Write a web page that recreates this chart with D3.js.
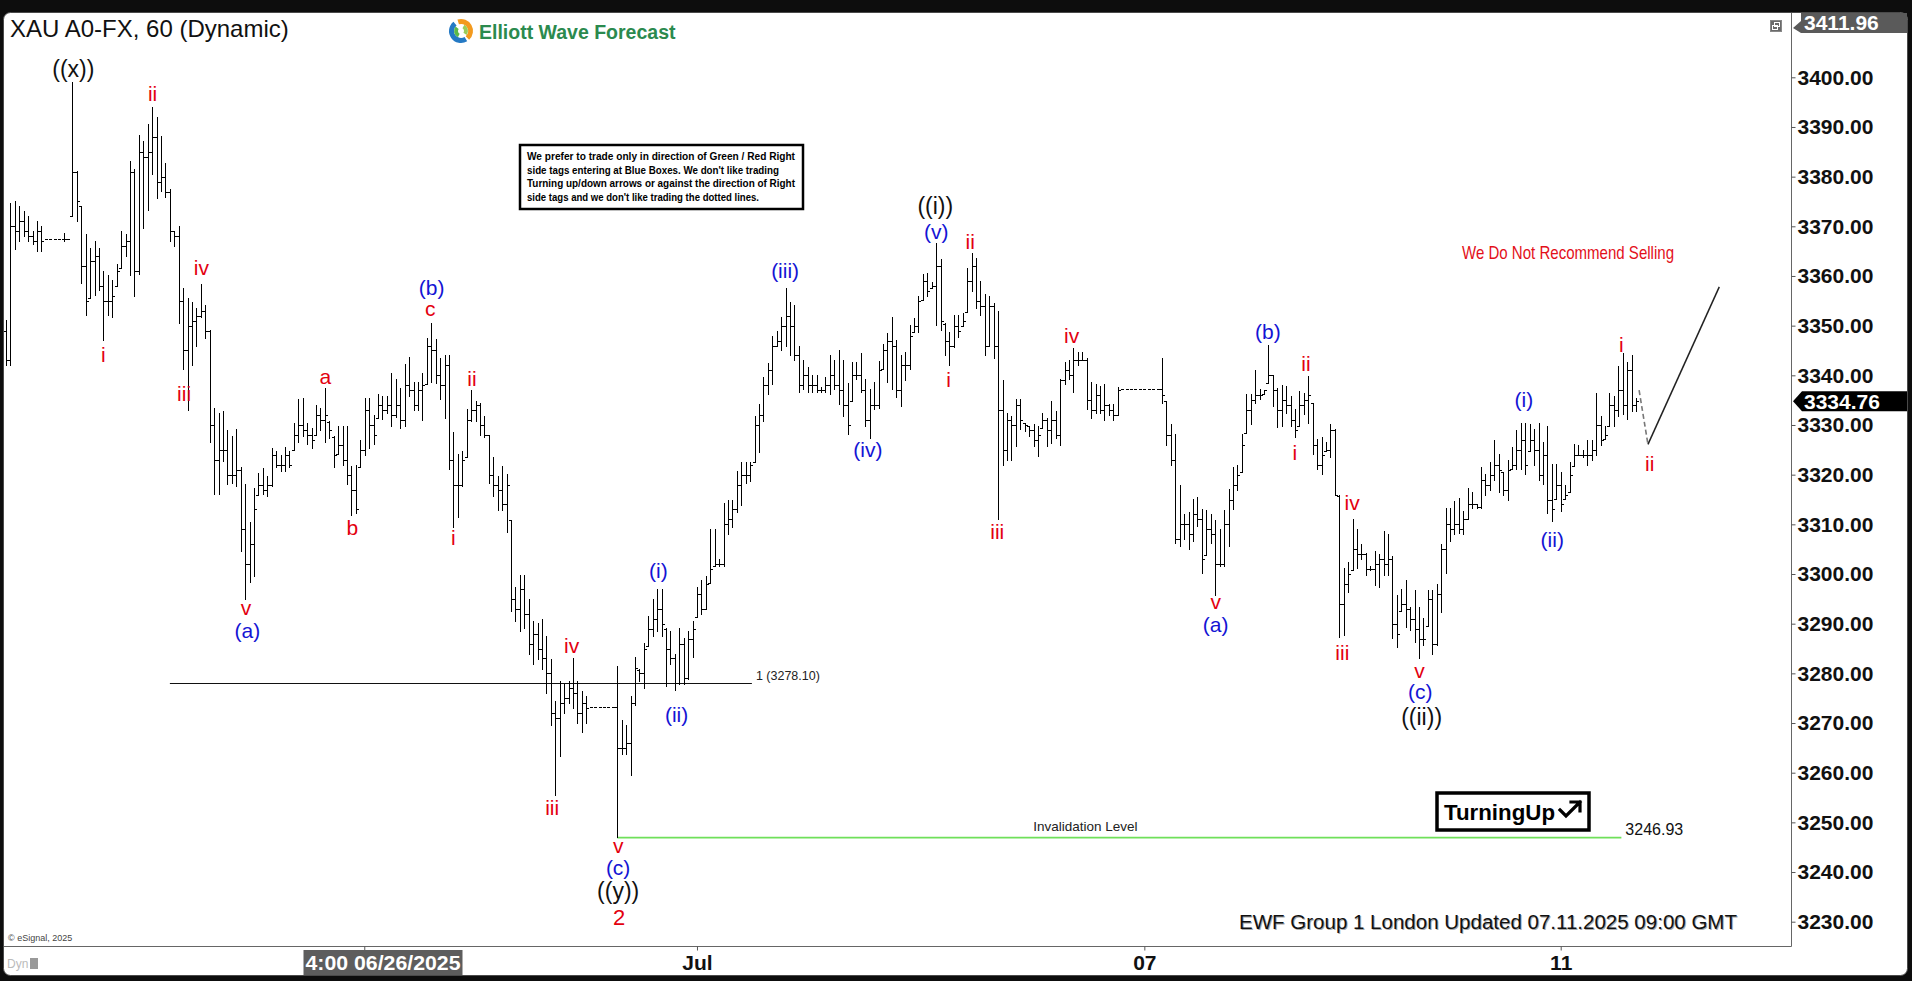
<!DOCTYPE html>
<html><head><meta charset="utf-8">
<script src="https://cdn.jsdelivr.net/npm/d3@7"></script>
<style>
html,body{margin:0;padding:0;background:#0d0d0d;overflow:hidden}
svg{display:block}
text{font-family:"Liberation Sans",Arial,sans-serif}
</style></head><body>
<svg id="c" width="1912" height="981"></svg>
<script>
// ---- hourly OHLC bars (XAU A0-FX, 60) ----
const highs=[
3351,3374.5,3375,3374,3373,3372,3369,3371,3370,3367.5,
3367.5,3367.5,3367.5,3368.5,3367.5,3399,3381,3374,3368.4,3365.5,
3367,3365.5,3361,3360,3359,3362.4,3369,3368.4,3383,3381.4,
3388.3,3387,3390.4,3394,3392,3388,3382.7,3377.5,3369,3370,
3357.4,3355.5,3354.7,3353.5,3358.2,3354,3349,3333.4,3332.3,3332.7,
3328.8,3327.6,3329,3321.5,3318,3310.3,3317.3,3320.3,3321.3,3319.6,
3325.3,3324.6,3323.8,3325.5,3324.6,3330.4,3335.2,3335.4,3330.4,3329.2,
3333.9,3333.4,3337.3,3330.7,3327.6,3329.6,3329.6,3329.6,3321.6,3321.8,
3326.8,3335.4,3335.4,3331.9,3336.2,3335.8,3335.8,3340.4,3339.2,3337.3,
3342.2,3343.5,3338.5,3338.5,3340.4,3347.5,
3350.5,3347.3,3343.4,3343.9,
3343.9,3328.5,3324,3324.7,3333.2,3337,3334.7,3334.4,3331.7,3327.9,
3323.5,3319.6,3321.7,3320.1,3310.8,3297.2,3299.7,3299.7,3294.8,3290.5,
3290,3290.9,3287.5,3282.7,3274.4,3278.3,3277.8,3278.3,3283,3278.3,
3276.4,3275.4,3273.2,3273.2,3273.2,3273.2,3273.2,3273.2,3281.3,3270.5,
3269.6,3275.4,3283.2,3280.7,3286.1,3291.4,3294.8,3296.8,3296.8,3289,
3288.5,3283.7,3289,3287,3288.5,3290.5,3297.3,3298.7,3299.4,3308.9,
3308.9,3303,3314.2,3314.7,3314.7,3320.6,3322.5,3322.5,3322.5,3331.7,
3334.2,3339.5,3342.4,3347.8,3348.8,3351.7,3357.5,3354.6,3354.1,3345.8,
3342.9,3341.5,3340,3340,3337.6,3339.6,3343.9,3342.9,3344.9,3342.9,
3338.3,3342.6,3342.6,3344.3,3339.2,3337.2,3338.5,3342.7,3346.3,3348.4,
3351.7,3347,3343.9,3344.6,3350,3351.4,3355.8,3360.3,3360.6,3358.6,
3366.5,3363.3,3350.4,3348.7,3352.1,3352.1,3352.4,3361.6,3364.5,3363.6,
3358.9,3356.2,3355.8,3354.5,3352.8,3338.9,3332.4,3331.7,3335.1,3335.1,
3330.4,3329.7,3330,3329.7,3332.4,3331.4,3334.8,3332.7,3339.2,3342.6,
3342.9,3345.4,3344.6,3344.6,3343.3,3338.5,3338.2,3337.8,3338.2,3334.1,
3334.1,3337.5,3337.3,3337.3,3337.3,3337.3,3337.3,3337.3,3337.3,3337.3,
3337.3,3343.3,3334.8,3330,3328,3317.8,3312,3312.4,3315.1,3315.5,
3313,3312.7,3312,3310.7,3308.9,3312.7,3317.1,3321.5,3321.9,3328,
3336.2,3336.2,3341,3337.2,3337,3346,3340,3337.4,3338,3337.7,
3335.7,3333.1,3336.7,3336.4,3339.7,3334.4,3327.1,3327.4,3326.4,3330.1,
3329,3315.8,3301.2,3302.3,3310.9,3308.9,3305.9,3304.2,3301.5,3304.5,
3303.9,3308.5,3307.9,3303.6,3295.6,3296.9,3298.6,3293.3,3296.6,3293.3,
3291,3296.6,3296.6,3297.9,3305.9,3313.2,3313.2,3314.5,3315.2,3312.5,
3317.2,3316.5,3314,3321.5,3320.1,3322.5,3326.8,3324.1,3320.5,3322.8,
3325.4,3328.8,3330.4,3330.4,3330.1,3329,3330.4,3326.4,3329.7,3322.1,
3322.1,3320.5,3317.8,3322.5,3326.1,3325.8,3324.8,3326.8,3326.8,3336.4,
3331.7,3329.7,3336.4,3335.7,3341.7,3344.3,3342.6,3343.9,3335.4];
const lows=[
3342,3342,3365.4,3367,3368,3367,3366.3,3365,3365,3367.5,
3367.5,3367.5,3367.5,3367,3367.5,3372,3371,3358.4,3352,3355.5,
3356,3357,3347,3352,3351.6,3358,3361.6,3364,3360,3355.9,
3360.3,3369.6,3373.2,3380.4,3375.6,3377,3375.7,3367,3366,3350.4,
3341.2,3333,3342,3345.8,3351.6,3347.4,3326.5,3316,3316,3322.6,
3318,3318.3,3317.6,3304.5,3294.8,3298.3,3299.5,3316,3316,3315.7,
3317.6,3321.5,3320.7,3320.7,3321.5,3325,3326.5,3327.6,3326.1,3325.3,
3328,3328.8,3326.5,3327.2,3321.5,3324.2,3321.8,3318,3311.8,3312.2,
3321.5,3323.8,3325.3,3326.1,3331.5,3331.1,3332.3,3329.6,3331.5,3329.2,
3329.6,3335.8,3333,3333,3331,3338.3,
3338.6,3338.3,3335.2,3331.3,
3321,3309.4,3311.3,3317.7,3323.5,3330.8,3330.8,3327.9,3327.4,3318.2,
3315.7,3312.8,3312.8,3308.4,3292.4,3290.5,3288.5,3289,3283.7,3281.7,
3282.7,3280.8,3275.9,3269.6,3255.5,3263.3,3272,3274,3273,3270,
3268.1,3270,3273.2,3273.2,3273.2,3273.2,3273.2,3273.2,3246.93,3263.7,
3263.7,3259.4,3273.5,3278.3,3276.9,3285.6,3287.5,3288.5,3287.5,3277.4,
3281.7,3276.5,3277.8,3277.8,3278.8,3283.2,3291.4,3291.9,3292.9,3298.2,
3301.6,3301.6,3301.6,3307.9,3309.4,3312.3,3313.8,3318.2,3318.6,3322.5,
3324.5,3330.8,3336.1,3338.1,3345.8,3344.9,3345.8,3343.9,3342.9,3336.6,
3337.1,3336.6,3336.6,3336.6,3336.6,3336.6,3336.1,3337.1,3334.2,3331.7,
3328,3334.8,3339.2,3336.5,3329.7,3327.3,3333.1,3333.4,3341.2,3338.5,
3337.2,3335.5,3333.8,3338.9,3341.2,3348.7,3348.7,3355.2,3355.8,3357.5,
3350,3349,3344,3341.9,3345.6,3347.7,3350,3352.8,3356.9,3353.5,
3352.1,3344,3346,3343.3,3311,3321.9,3322.9,3322.9,3325.6,3329,
3328.7,3327.6,3325.6,3323.6,3329.3,3325.6,3326.3,3327.3,3325.9,3338.2,
3339.2,3336.5,3341.9,3342.9,3333.1,3331.4,3332.4,3332.4,3331,3332,
3331,3332,3337.3,3337.3,3337.3,3337.3,3337.3,3337.3,3337.3,3337.3,
3337.3,3334.4,3325.9,3321.9,3306.2,3305.6,3306.9,3304.9,3306.6,3309.6,
3300.1,3303.9,3306.2,3295.7,3301.5,3301.5,3305.6,3313,3316.8,3320.5,
3328.3,3330,3334.4,3335.1,3336.3,3338.4,3333.7,3329.4,3329.7,3332.4,
3329.7,3327.4,3329.7,3332.1,3330.4,3324.1,3321.1,3320.1,3324.8,3323.5,
3315.8,3287.3,3287.6,3296.3,3300.9,3301.2,3302.9,3299.6,3300.8,3297.6,
3297.3,3299.6,3299.6,3287,3285.3,3292.6,3289.3,3288.6,3286.3,3283,
3285.6,3289.6,3283.7,3285.6,3292.3,3300.2,3306.5,3307.9,3308.2,3307.9,
3310.9,3313.2,3313.2,3313.2,3315.8,3316.8,3318.8,3316.5,3315.8,3314.8,
3321.1,3321.1,3321.1,3320.1,3324.8,3321.8,3318.8,3318.1,3312.2,3310.5,
3315.2,3312.5,3315.2,3316.5,3321.8,3323.8,3323.5,3321.8,3322.8,3323.8,
3325.8,3327.1,3329.7,3329.7,3331.7,3332.1,3331.1,3332.7,3332.7];
const opens=[
3349,3343,3370,3369,3371,3369,3368,3367,3369,3367.5,
3367.5,3367.5,3367.5,3367.5,3367.5,3372,3381,3374,3362,3355.5,
3363,3364,3358,3355,3355,3358,3361.6,3366,3367,3381,
3361,3385,3384,3385,3388,3379,3380,3377,3369,3368,
3355,3345,3350,3351,3352,3353,3349,3330,3323,3325,
3325,3320,3320,3321,3309,3302,3306,3316,3318,3317,
3318,3324,3322,3322,3324,3325,3328,3330,3329,3328,
3328,3332,3331,3330.7,3327.6,3324.2,3326,3323,3320,3317,
3321.5,3325,3333,3330,3331.5,3334,3333,3334,3332,3334,
3331,3338,3337,3334,3337,3338.3,
3346,3345,3340,3338,
3342,3323,3318,3318,3323.5,3331,3333,3334,3330,3327.9,
3320,3318,3317,3314,3310.8,3295,3293,3297,3292,3286,
3288,3285,3283,3280,3272,3271,3274,3275,3277,3276,
3272,3274,3273.2,3273.2,3273.2,3273.2,3273.2,3273.2,3273.2,3265,
3265,3266,3274,3280.7,3280,3285.6,3289,3291,3293,3289,
3285,3283,3278,3286,3279,3287,3291.4,3296,3293,3298.2,
3301.6,3302,3302,3310,3311,3313,3318,3320,3320,3322.5,
3330,3332,3338,3341,3346,3347,3350,3352,3350,3344,
3338,3340,3338,3338,3337,3337,3338,3340,3338,3337,
3334,3334.8,3340,3340,3337,3331,3334,3334,3341.2,3345,
3347,3346,3337,3342,3342,3348.7,3350,3355.2,3359,3357.5,
3358,3362,3350.4,3347,3346,3350,3350,3352.8,3359,3362,
3355,3354,3346,3354,3346,3333,3325,3331,3330,3334,
3330.4,3329.7,3329,3327,3329.3,3331,3329,3331,3328,3339,
3341,3340,3343,3343,3343,3335,3333,3336,3333,3334,
3333,3332,3337.3,3337.3,3337.3,3337.3,3337.3,3337.3,3337.3,3337.3,
3337.3,3337.3,3334.8,3328,3323,3307,3310,3310,3308,3312,
3311,3303.9,3309,3308,3302,3302,3310,3315,3318,3320.5,
3328.3,3333,3335,3336,3336.3,3338.4,3340,3337,3333,3335,
3334,3331,3329.7,3334,3335,3334.4,3326,3322,3324.8,3325,
3329,3315.8,3294,3298,3300.9,3305,3304,3304,3301,3301,
3302,3303,3302,3303,3290,3292.6,3294,3293,3291,3289,
3287,3289.6,3295,3286,3296,3305,3310,3309,3310,3309,
3311,3314,3314,3313.5,3319,3318,3320,3322,3320.5,3317,
3321.1,3322,3325,3327,3324.8,3327,3325,3320,3324,3315,
3315.2,3318,3315.2,3316.5,3321.8,3324,3324,3324,3324,3325,
3330,3327.1,3329.7,3334,3333,3337,3334,3341,3334];
const closes=[
3343,3370,3369,3371,3369,3368,3367,3369,3367,3367.5,
3367.5,3367.5,3367.5,3367.5,3367.5,3381,3375,3362,3355,3363,
3364,3358,3355,3355,3356,3361,3366,3367,3381,3361,
3385,3384,3385,3388,3379,3380,3377,3369,3368,3355,
3345,3350,3351,3352,3353,3349,3330,3323,3325,3325,
3320,3320,3321,3309,3302,3306,3313,3318,3317,3318,
3324,3322,3322,3324,3322,3328,3330,3329,3328,3327,
3332,3331,3332,3329,3324,3326,3323,3320,3317,3313,
3325,3333,3330,3328,3334,3333,3334,3332,3334,3331,
3338,3337,3334,3337,3338,3346,
3345,3340,3338,3342,
3323,3318,3318,3323,3331,3333,3334,3330,3328,3320,
3318,3317,3314,3318,3295,3293,3297,3292,3286,3288,
3285,3283,3280,3272,3271,3274,3275,3277,3276,3272,
3274,3273,3273.2,3273.2,3273.2,3273.2,3273.2,3273.2,3265,3265,
3266,3274,3281,3280,3285,3289,3291,3293,3290,3285,
3283,3278,3286,3279,3287,3289,3296,3293,3298,3301,
3302,3302,3310,3311,3313,3318,3320,3320,3322,3330,
3332,3338,3341,3346,3347,3350,3352,3350,3344,3338,
3340,3338,3338,3337,3337,3338,3340,3338,3337,3334,
3330,3340,3340,3337,3331,3334,3334,3341,3345,3347,
3346,3337,3342,3342,3348,3350,3355,3359,3357,3358,
3362,3351,3347,3346,3350,3349,3351,3359,3362,3355,
3354,3346,3354,3346,3333,3325,3331,3330,3334,3331,
3330,3329,3327,3328,3331,3329,3331,3328,3339,3341,
3340,3343,3343,3343,3335,3333,3336,3333,3334,3333,
3332,3337,3337.3,3337.3,3337.3,3337.3,3337.3,3337.3,3337.3,3337.3,
3337.3,3336,3328,3323,3307,3310,3310,3308,3312,3311,
3303,3309,3308,3302,3302,3310,3315,3318,3320,3326,
3333,3335,3336,3336,3337,3340,3337,3333,3335,3334,
3331,3329,3334,3335,3336,3326,3322,3324,3325,3329,
3316,3294,3298,3300,3305,3304,3304,3301,3301,3302,
3303,3302,3303,3290,3288,3294,3293,3291,3289,3287,
3287,3295,3286,3296,3305,3310,3309,3310,3309,3311,
3314,3314,3313.5,3319,3318,3320,3322,3321,3317,3321,
3322,3325,3327,3322,3327,3325,3320,3324,3315,3313,
3318,3314,3316,3320,3324,3324,3324,3324,3325,3330,
3327,3328,3334,3333,3337,3334,3341,3334,3334.76];

// ---- axes ----
const yTicks=[3230,3240,3250,3260,3270,3280,3290,3300,3310,3320,3330,3340,3350,3360,3370,3380,3390,3400];
const timeTickIdx=[156,257,351];
const timeTickLabels=["Jul","07","11"];
const cursorTickIdx=81, cursorLabelIdx=85, cursorLabel="4:00 06/26/2025";
const lastPrice=3334.76, highPrice=3411.96;

// ---- Elliott wave labels ----
const waveText=["((x))","ii","i","iv","iii","v","(a)","a","b","(b)","c","ii","i","iii","iv","v","(c)","((y))","2",
"(i)","(ii)","(iii)","(iv)","((i))","(v)","ii","i","iii","iv","v","(a)","(b)","ii","i","iv","iii","v","(c)","((ii))",
"(i)","(ii)","i","ii"];
const waveIdx=[15.2,33.1,22.0,44.1,40.2,54.2,54.5,72.1,78.2,96.1,95.8,105.2,101.0,123.3,127.7,138.2,138.2,138.2,138.4,
147.3,151.4,175.9,194.6,209.8,210,217.7,212.8,223.8,240.6,273.1,273.1,284.9,293.5,291.0,303.9,301.7,319.1,319.3,319.6,
342.7,349.1,364.7,371.1];
const wavePrice=[3401.6,3396.7,3344.1,3361.8,3336.3,3293.3,3288.6,3339.7,3309.3,3357.6,3353.4,3339.4,3307.3,3253.0,3285.7,3245.4,3241.0,3236.1,3230.9,
3300.7,3271.7,3361.1,3325.0,3374.1,3368.9,3367.0,3339.2,3308.5,3348.0,3294.5,3289.9,3348.8,3342.4,3324.5,3314.4,3284.2,3280.5,3276.3,3271.2,
3335.1,3306.9,3346.3,3322.2];
const waveColor=["k","r","r","r","r","r","b","r","r","b","r","r","r","r","r","r","b","k","r",
"b","b","b","b","k","b","r","r","r","r","r","b","b","r","r","r","r","r","b","k",
"b","b","r","r"];

// ---- levels & projection ----
const fibLevel=3278.10, fibFrom=37.0, fibTo=168.4;
const invLevel=3246.93, invFrom=138, invTo=364.7;
const projIdx=[368.7,370.7,386.8];
const projPrice=[3337,3326.1,3357.8];

const disclaimer=["We prefer to trade only in direction of Green / Red Right",
"side tags entering at Blue Boxes. We don't like trading",
"Turning up/down arrows or against the direction of Right",
"side tags and we don't like trading the dotted lines."];

// =================== drawing ===================
const W=1912,H=981;
const FONT='"Liberation Sans",Arial,sans-serif';
const svg=d3.select('#c');
const colors={k:"#111111",r:"#e3000f",b:"#1414d4"};

svg.append('rect').attr('width',W).attr('height',H).attr('fill','#0d0d0d');
svg.append('rect').attr('x',3.5).attr('y',12.5).attr('width',1904).attr('height',963).attr('rx',7)
  .attr('fill','#fff').attr('stroke','#4a4a4a');

const x=d3.scaleLinear().domain([0,368]).range([6,1636]);
const y=d3.scaleLinear().domain([3230,3400]).range([921.7,77.3]);

const defs=svg.append('defs');
defs.append('clipPath').attr('id','plotClip').append('rect').attr('x',4).attr('y',13).attr('width',1787).attr('height',933);

const plot=svg.append('g').attr('clip-path','url(#plotClip)');

// fib line
plot.append('line').attr('x1',x(fibFrom)).attr('x2',x(fibTo)).attr('y1',Math.round(y(fibLevel))+0.5).attr('y2',Math.round(y(fibLevel))+0.5)
  .attr('stroke','#111').attr('stroke-width',1);
plot.append('text').attr('x',x(fibTo)+4).attr('y',y(fibLevel)-7).attr('font-size',12.5).attr('fill','#222')
  .attr('dominant-baseline','central').text('1 (3278.10)');

// invalidation line
plot.append('line').attr('x1',x(invFrom)).attr('x2',x(invTo)).attr('y1',y(invLevel)).attr('y2',y(invLevel))
  .attr('stroke','#6fe05a').attr('stroke-width',1.6);
plot.append('text').attr('x',x(243.7)).attr('y',y(3249.1)).attr('text-anchor','middle').attr('dominant-baseline','central')
  .attr('font-size',13.5).attr('fill','#222').text('Invalidation Level');
plot.append('text').attr('x',x(365.6)).attr('y',y(3248.6)).attr('dominant-baseline','central')
  .attr('font-size',16).attr('fill','#111').text(invLevel.toFixed(2));

// bars
const idx=d3.range(highs.length);
const bx=i=>Math.round(x(i))+0.5;
const barsG=plot.append('g').attr('stroke','#000').attr('stroke-width',1.1).attr('shape-rendering','crispEdges');
const real=idx.filter(i=>highs[i]!==lows[i]);
const flat=idx.filter(i=>highs[i]===lows[i]);
barsG.selectAll('line.v').data(real).join('line').attr('class','v')
  .attr('x1',bx).attr('x2',bx).attr('y1',i=>y(highs[i])-0.5).attr('y2',i=>y(lows[i])+0.5);
barsG.selectAll('line.o').data(real).join('line').attr('class','o')
  .attr('x1',i=>bx(i)-2.5).attr('x2',bx).attr('y1',i=>Math.round(y(opens[i]))+0.5).attr('y2',i=>Math.round(y(opens[i]))+0.5);
barsG.selectAll('line.c').data(real).join('line').attr('class','c')
  .attr('x1',bx).attr('x2',i=>bx(i)+2.5).attr('y1',i=>Math.round(y(closes[i]))+0.5).attr('y2',i=>Math.round(y(closes[i]))+0.5);
barsG.selectAll('line.f').data(flat).join('line').attr('class','f')
  .attr('x1',i=>bx(i)-1.5).attr('x2',i=>bx(i)+1.5).attr('y1',i=>Math.round(y(closes[i]))+0.5).attr('y2',i=>Math.round(y(closes[i]))+0.5);

// projection
plot.append('path').attr('d',d3.line().x(d=>x(projIdx[d])).y(d=>y(projPrice[d]))([0,1])).attr('fill','none').attr('stroke','#777').attr('stroke-width',1.6).attr('stroke-dasharray','5,3');
plot.append('path').attr('d',d3.line().x(d=>x(projIdx[d])).y(d=>y(projPrice[d]))([1,2])).attr('fill','none').attr('stroke','#222').attr('stroke-width',1.5);

// wave labels
plot.selectAll('text.w').data(waveText).join('text').attr('class','w')
  .attr('x',(d,i)=>x(waveIdx[i])).attr('y',(d,i)=>y(wavePrice[i]))
  .attr('text-anchor','middle').attr('dominant-baseline','central')
  .attr('font-size',(d,i)=>waveColor[i]==='k'?23:(d==='2'?22:21))
  .attr('fill',(d,i)=>colors[waveColor[i]]).text(d=>d);

// disclaimer box
const db=svg.append('g');
db.append('rect').attr('x',520).attr('y',145).attr('width',283).attr('height',64).attr('fill','#fff').attr('stroke','#000').attr('stroke-width',2.5);
const dlens=[268,252,268,232];
disclaimer.forEach((t,i)=>{
  db.append('text').attr('x',527).attr('y',160+i*13.5).attr('font-size',10.5).attr('font-weight','bold').attr('fill','#000')
    .attr('textLength',dlens[i]).attr('lengthAdjust','spacingAndGlyphs').text(t);
});

// We Do Not Recommend Selling
svg.append('text').attr('x',1462).attr('y',259).attr('font-size',18.5).attr('fill','#e3101a')
  .attr('textLength',212).attr('lengthAdjust','spacingAndGlyphs').text('We Do Not Recommend Selling');

// Turning Up box
const tu=svg.append('g');
tu.append('rect').attr('x',1437).attr('y',793).attr('width',152).attr('height',37).attr('fill','#fff').attr('stroke','#000').attr('stroke-width',3.5);
tu.append('text').attr('x',1444).attr('y',820).attr('font-size',22).attr('font-weight','bold').attr('fill','#000')
  .attr('textLength',111).attr('lengthAdjust','spacingAndGlyphs').text('TurningUp');
tu.append('path').attr('d','M1560,810 L1566,816 L1580,802 M1571,802 L1580,802 L1580,811').attr('fill','none').attr('stroke','#000').attr('stroke-width',3.2).attr('stroke-linecap','square');

// plot frame lines
svg.append('line').attr('x1',4).attr('x2',1791.5).attr('y1',946.5).attr('y2',946.5).attr('stroke','#666');
svg.append('line').attr('x1',1791.5).attr('x2',1791.5).attr('y1',13).attr('y2',946.5).attr('stroke','#666');

// Y axis
const yAxis=d3.axisRight(y).tickValues(yTicks).tickFormat(d3.format('.2f')).tickSize(4).tickPadding(2);
const ax=svg.append('g').attr('transform','translate(1791.5,0)').call(yAxis);
ax.select('.domain').remove();
ax.selectAll('line').attr('stroke','#555');
ax.selectAll('text').attr('font-size',21).attr('font-weight','bold').attr('fill','#111').attr('font-family',FONT);

// last price tag
const ly=y(lastPrice);
svg.append('path').attr('d',`M1793,${ly} L1802,${ly-10} L1907,${ly-10} L1907,${ly+10} L1802,${ly+10} Z`).attr('fill','#000');
svg.append('text').attr('x',1804).attr('y',ly).attr('dominant-baseline','central').attr('font-size',21).attr('font-weight','bold')
  .attr('fill','#fff').text(lastPrice.toFixed(2));
// high tag (clamped to top)
svg.append('path').attr('d','M1793,28 L1801,21 L1801,13 L1907,13 L1907,33 L1801,33 Z').attr('fill','#5a5a5a');
svg.append('text').attr('x',1804).attr('y',22).attr('dominant-baseline','central').attr('font-size',21).attr('font-weight','bold')
  .attr('fill','#fff').text(highPrice.toFixed(2));
// small restore icon
svg.append('rect').attr('x',1770.5).attr('y',20.5).attr('width',11).attr('height',11).attr('fill','#6a6a6a').attr('stroke','#888');
svg.append('rect').attr('x',1772.5).attr('y',25.5).attr('width',5).attr('height',4).attr('fill','none').attr('stroke','#fff');
svg.append('rect').attr('x',1774.5).attr('y',22.5).attr('width',5).attr('height',4).attr('fill','none').attr('stroke','#fff');

// time axis
const xAxis=d3.axisBottom(x).tickValues(timeTickIdx).tickFormat((d,i)=>timeTickLabels[i]).tickSize(4).tickPadding(5);
const tx=svg.append('g').attr('transform','translate(0,946.5)').call(xAxis);
tx.select('.domain').remove();
tx.selectAll('line').attr('stroke','#555');
tx.selectAll('text').attr('font-size',21).attr('font-weight','bold').attr('fill','#111').attr('font-family',FONT);
svg.append('line').attr('x1',x(cursorTickIdx)).attr('x2',x(cursorTickIdx)).attr('y1',946.5).attr('y2',950.5).attr('stroke','#555');
svg.append('rect').attr('x',x(cursorLabelIdx)-79).attr('y',950).attr('width',159).attr('height',25).attr('fill','#5d5d5d');
svg.append('text').attr('x',x(cursorLabelIdx)-77).attr('y',970).attr('font-size',21).attr('font-weight','bold').attr('fill','#fff')
  .attr('textLength',155).attr('lengthAdjust','spacingAndGlyphs').text(cursorLabel);

// Title
svg.append('text').attr('x',10).attr('y',37).attr('font-size',24).attr('fill','#111').text('XAU A0-FX, 60 (Dynamic)');

// logo
const lg=svg.append('g').attr('transform','translate(461,31)');
const arc=d3.arc().innerRadius(7).outerRadius(12);
lg.append('path').attr('d',arc({startAngle:-0.3,endAngle:2.4})).attr('fill','#f39a1e');
lg.append('path').attr('d',arc({startAngle:2.6,endAngle:5.6})).attr('fill','#2479c4');
lg.append('path').attr('d',d3.arc().innerRadius(3).outerRadius(7)({startAngle:3.6,endAngle:5.4})).attr('fill','#5cb848');
lg.append('path').attr('d',d3.arc().innerRadius(3).outerRadius(7)({startAngle:0.5,endAngle:2.2})).attr('fill','#9acd5a');
svg.append('text').attr('x',479).attr('y',39).attr('font-size',19.5).attr('font-weight','bold').attr('fill','#2b8a4e').text('Elliott Wave Forecast');

// footer
svg.append('text').attr('x',1489).attr('y',930).attr('text-anchor','middle').attr('font-size',20).attr('fill','#aaa')
  .attr('textLength',498).attr('lengthAdjust','spacingAndGlyphs').text('EWF Group 1 London Updated 07.11.2025 09:00 GMT');
svg.append('text').attr('x',1488).attr('y',929).attr('text-anchor','middle').attr('font-size',20).attr('fill','#111')
  .attr('textLength',498).attr('lengthAdjust','spacingAndGlyphs').text('EWF Group 1 London Updated 07.11.2025 09:00 GMT');
svg.append('text').attr('x',8).attr('y',941).attr('font-size',9).attr('fill','#444').text('© eSignal, 2025');
svg.append('text').attr('x',7).attr('y',968).attr('font-size',12).attr('fill','#bbb').text('Dyn');
svg.append('rect').attr('x',30).attr('y',958).attr('width',8).attr('height',11).attr('fill','#999');
</script>
</body></html>
